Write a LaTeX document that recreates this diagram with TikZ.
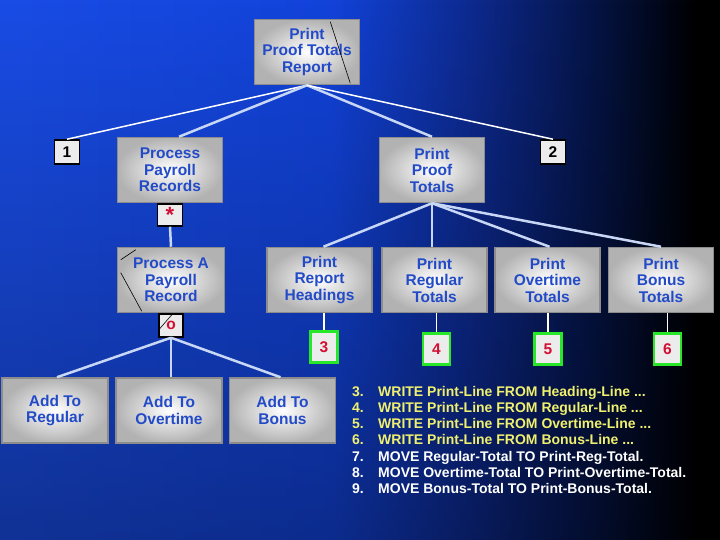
\documentclass[tikz,border=0pt]{standalone}
\usepackage{fontspec}
\setmainfont{Liberation Sans}
\usetikzlibrary{positioning,calc,fadings}

\definecolor{boxtext}{RGB}{35,75,200}
\definecolor{linkblue}{RGB}{200,215,245}
\definecolor{codeyellow}{RGB}{240,240,110}
\definecolor{tagred}{RGB}{210,15,50}
\definecolor{taggreen}{RGB}{40,230,40}
\definecolor{boxframe}{RGB}{140,140,140}
\pgfdeclarehorizontalshading{bgshade}{100bp}{rgb(0bp)=(0.10,0.30,0.90); rgb(25bp)=(0.10,0.30,0.90); rgb(48bp)=(0.07,0.26,0.85); rgb(58bp)=(0.05,0.16,0.55); rgb(66bp)=(0.02,0.08,0.28); rgb(73.5bp)=(0,0,0); rgb(100bp)=(0,0,0)}
\tikzfading[name=fade down, top color=transparent!100, bottom color=transparent!0]

\begin{document}
\begin{tikzpicture}[
  x=1pt, y=1pt,
  box/.style={shade, inner color=white, outer color=gray!60, draw=boxframe, line width=1.5pt, minimum width=105pt, minimum height=65pt, inner sep=0pt, align=center, text=boxtext, font=\fontsize{15.5}{16.5}\selectfont\bfseries},
  tag/.style={fill=gray!15, draw=black, line width=1.5pt, minimum width=25pt, minimum height=24pt, inner sep=0pt, font=\fontsize{15.5}{16}\selectfont\bfseries},
  seqtag/.style={tag, draw=taggreen, line width=2.5pt, text=tagred, minimum width=27pt, minimum height=31pt},
  link/.style={draw=linkblue, line width=2.5pt},
  wire/.style={draw=white, line width=1.5pt},
  mark line/.style={draw=black, line width=0.6pt},
  code/.style={anchor=north west, inner sep=0pt, align=left, font=\fontsize{14}{16}\selectfont\bfseries}
]
\shade[shading=bgshade] (0,0) rectangle (720,540);
\fill[black, opacity=0.35, path fading=fade down] (0,0) rectangle (720,540);
\useasboundingbox (0,0) rectangle (720,540);

% top level
\node[box] (report) at (307,488) {Print\\Proof Totals\\Report};
\node[tag] (one) at (67,388) {1};
\node[box] (process) at (170,370) {Process\\Payroll\\Records};
\node[box] (proof) at (432,370) {Print\\Proof\\Totals};
\node[tag] (two) at (553,388) {2};
\node[tag, below=0pt of process, text=tagred, minimum height=22pt, font=\fontsize{22}{22}\selectfont\bfseries] (iter) {*};

% second level
\node[box, minimum width=107pt] (record) at (171,260) {Process A\\Payroll\\Record};
\node[tag, below=0pt of record, text=tagred, minimum width=24pt, minimum height=23pt] (select) {o};
\node[box] (headings) at (319.5,260) {Print\\Report\\Headings};
\node[box] (regular) at (434.5,260) {Print\\Regular\\Totals};
\node[box] (overtime) at (547.5,260) {Print\\Overtime\\Totals};
\node[box] (bonus) at (661,260) {Print\\Bonus\\Totals};

\node[seqtag] (three) at (324,193) {3};
\node[seqtag] (four) at (436.5,191) {4};
\node[seqtag] (five) at (548,191) {5};
\node[seqtag] (six) at (667.5,191) {6};

% third level
\node[box, minimum width=106pt] (addreg) at (55,129.5) {Add To\\Regular};
\node[box, minimum width=106pt] (addover) at (169,129.5) {Add To\\Overtime};
\node[box, minimum width=106pt] (addbonus) at (282.5,129.5) {Add To\\Bonus};

% operations
\node[code, text=codeyellow] (ops) at (352,155) {%
  \begin{tabular}{@{}p{26pt}@{}l@{}}
  3. & WRITE Print-Line FROM Heading-Line ...\\
  4. & WRITE Print-Line FROM Regular-Line ...\\
  5. & WRITE Print-Line FROM Overtime-Line ...\\
  6. & WRITE Print-Line FROM Bonus-Line ...
  \end{tabular}};
\node[code, text=white, below=1pt of ops.south west, anchor=north west] (moves) {%
  \begin{tabular}{@{}p{26pt}@{}l@{}}
  7. & MOVE Regular-Total TO Print-Reg-Total.\\
  8. & MOVE Overtime-Total TO Print-Overtime-Total.\\
  9. & MOVE Bonus-Total TO Print-Bonus-Total.
  \end{tabular}};

% connectors
\draw[wire] (report.south) -- (one.north);
\draw[link] (report.south) -- ([xshift=9pt]process.north);
\draw[link] (report.south) -- (proof.north);
\draw[wire] (report.south) -- (two.north);
\draw[link] (iter.south) -- (record.north);
\draw[link] (proof.south) -- ([xshift=4pt]headings.north);
\draw[link] (proof.south) -- (proof.south |- regular.north);
\draw[link] (proof.south) -- ([xshift=2pt]overtime.north);
\draw[link] (proof.south) -- (bonus.north);
\draw[link] (select.south) -- ([xshift=2pt]addreg.north);
\draw[link] (select.south) -- (select.south |- addover.north);
\draw[link] (select.south) -- ([xshift=-2pt]addbonus.north);
\draw[wire] (three.north) -- (three.north |- headings.south);
\draw[wire] (four.north) -- (four.north |- regular.south);
\draw[wire] (five.north) -- (five.north |- overtime.south);
\draw[wire] (six.north) -- (six.north |- bonus.south);

% stray marks
\draw[mark line] ([xshift=-30pt,yshift=-3pt]report.north east) -- ([xshift=-10pt,yshift=2pt]report.south east);
\draw[mark line] ([xshift=4pt,yshift=-13pt]record.north west) -- ([xshift=19pt,yshift=-3pt]record.north west);
\draw[mark line] ([xshift=4pt,yshift=-26pt]record.north west) -- ([xshift=25pt,yshift=2pt]record.south west);
\draw[mark line] ([xshift=1pt,yshift=-16pt]select.north west) -- ([xshift=14pt,yshift=-1pt]select.north west);
\end{tikzpicture}
\end{document}
